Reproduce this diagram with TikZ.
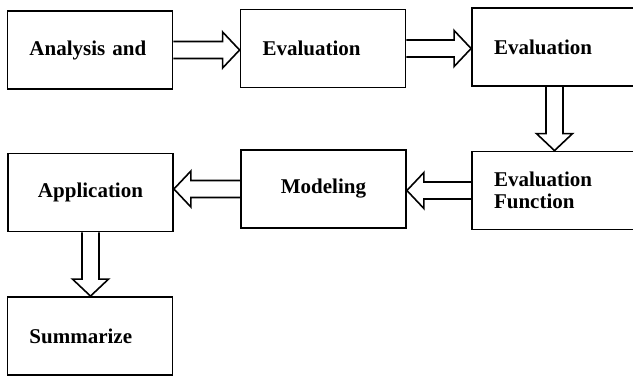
\documentclass[tikz,border=0pt]{standalone}
\usepackage{fontspec}
\setmainfont{Liberation Serif}
\usetikzlibrary{calc}

\tikzset{
  block/.style={draw=black, line width=1.8pt, minimum width=165pt, minimum height=78pt,
    inner xsep=22pt, text width=121pt, align=left, font=\bfseries\fontsize{21}{22}\selectfont},
  hollow/.style={draw=black, line width=1.6pt, to path={
    let \p1=(\tikztostart), \p2=(\tikztotarget), \p3=($(\p2)!17pt!(\p1)$) in
    ($(\p1)!8.5pt!90:(\p2)$) -- ($(\p3)!8.5pt!90:(\p2)$) -- ($(\p3)!18pt!90:(\p2)$) -- (\p2)
    -- ($(\p3)!18pt!-90:(\p2)$) -- ($(\p3)!8.5pt!-90:(\p2)$) -- ($(\p1)!8.5pt!-90:(\p2)$)}}
}

\begin{document}
\begin{tikzpicture}[x=1pt,y=-1pt]
  \useasboundingbox (0,0) rectangle (633,376);
  \clip (0,0) rectangle (633,376);

  \node[block] (analysis) at (90,50) {Analysis and};
  \node[block] (eval1) at (323,48.5) {Evaluation};
  \node[block] (eval2) at (554.5,47) {Evaluation};
  \node[block] (evalfun) at (554.5,190.5) {Evaluation\\Function};
  \node[block,align=center] (modeling) at (323.5,189) {Modeling};
  \node[block,align=center] (application) at (90.5,192.5) {Application};
  \node[block] (summarize) at (90,336) {Summarize};

  \draw[hollow] (analysis.east) to (analysis.east -| eval1.west);
  \draw[hollow] (eval1.east) to (eval1.east -| eval2.west);
  \draw[hollow] (eval2.south) to (eval2.south |- evalfun.north);
  \draw[hollow] (evalfun.west) to (evalfun.west -| modeling.east);
  \draw[hollow] (modeling.west) to (modeling.west -| application.east);
  \draw[hollow] (application.south) to (application.south |- summarize.north);
\end{tikzpicture}
\end{document}
